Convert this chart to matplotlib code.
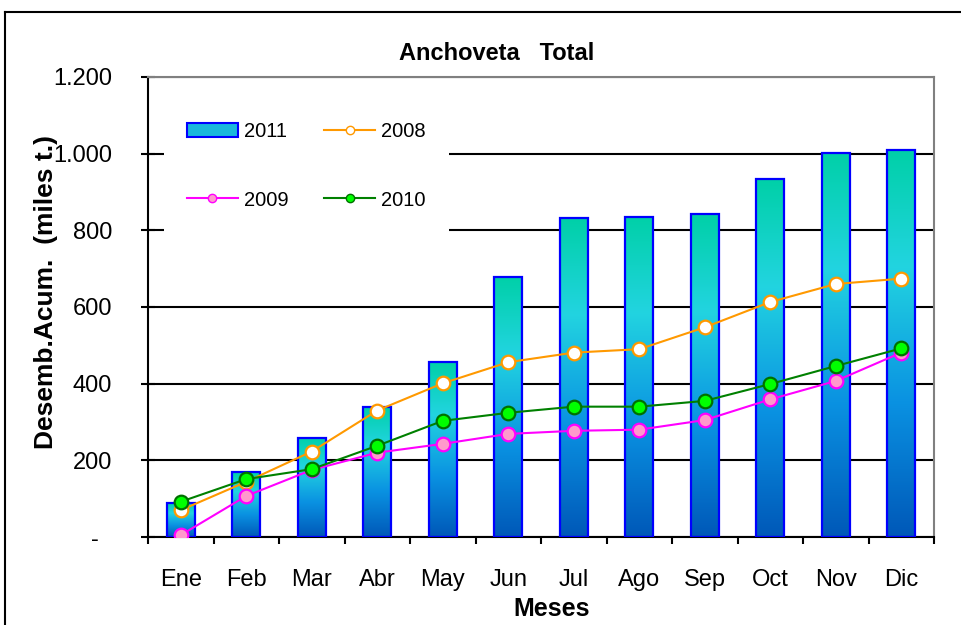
import numpy as np
import matplotlib.pyplot as plt
from matplotlib.colors import LinearSegmentedColormap
from matplotlib.patches import Rectangle, Patch
from matplotlib.lines import Line2D
from matplotlib.ticker import FuncFormatter

plt.rcParams['font.family'] = ['Liberation Sans', 'DejaVu Sans']

# datos (miles de t., acumulado)
meses = ['Ene', 'Feb', 'Mar', 'Abr', 'May', 'Jun', 'Jul', 'Ago', 'Sep', 'Oct', 'Nov', 'Dic']
d2011 = [88, 169, 259, 340, 456, 679, 832, 836, 842, 933, 1003, 1009]
d2008 = [70, 144, 223, 330, 401, 456, 481, 490, 547, 613, 660, 674]
d2009 = [5, 107, 175, 220, 243, 269, 277, 280, 305, 359, 407, 481]
d2010 = [92, 151, 177, 238, 303, 324, 340, 340, 355, 399, 446, 492]
yticks = [0, 200, 400, 600, 800, 1000, 1200]

fig = plt.figure(figsize=(9.61, 6.25), dpi=100)
W, H = 961, 625
ax = fig.add_axes([148 / W, 1 - 537 / H, (934 - 148) / W, (537 - 77) / H])

x = np.arange(len(meses))
ancho = 0.42

# degradado de las barras
cmap = LinearSegmentedColormap.from_list(
    'barra', [(0.0, '#0058B8'), (0.35, '#0A92E2'), (0.7, '#22D4E0'), (1.0, '#00D0A8')])
grad = np.linspace(0, 1, 256).reshape(-1, 1)
for xi, v in zip(x, d2011):
    ax.imshow(grad, cmap=cmap, extent=[xi - ancho / 2, xi + ancho / 2, 0, v],
              origin='lower', aspect='auto', zorder=2.4)
    ax.add_patch(Rectangle((xi - ancho / 2, 0), ancho, v, facecolor='none',
                           edgecolor='#0000FF', lw=1.6, zorder=2.6))

ax.plot(x, d2008, color='#FF9900', lw=1.5, marker='o', ms=9.8, mfc='white',
        mec='#FF9900', mew=1.6, zorder=4)
ax.plot(x, d2009, color='#FF00FF', lw=1.5, marker='o', ms=9.8, mfc='#FF99CC',
        mec='#FF00FF', mew=1.6, zorder=4)
ax.plot(x, d2010, color='#008000', lw=1.5, marker='o', ms=9.8, mfc='#00FF00',
        mec='#007000', mew=1.6, zorder=4)

ax.set_xlim(-0.5, 11.5)
ax.set_ylim(0, 1200)

ax.set_yticks(yticks)
ax.yaxis.set_major_formatter(FuncFormatter(
    lambda v, p: '-  ' if v == 0 else f'{int(v):,}'.replace(',', '.')))
ax.tick_params(axis='y', direction='inout', length=10, width=1.5, labelsize=17, pad=21)

ax.set_xticks(x)
ax.set_xticklabels(meses)
ax.set_xticks(np.arange(-0.5, 12, 1), minor=True)
ax.tick_params(axis='x', which='major', length=0, labelsize=17, pad=23)
ax.tick_params(axis='x', which='minor', direction='out', length=5, width=1.5)

ax.yaxis.grid(True, color='black', lw=1.5)
ax.set_axisbelow(True)
for s in ['left', 'bottom']:
    ax.spines[s].set_color('black')
    ax.spines[s].set_linewidth(1.5)
for s in ['top', 'right']:
    ax.spines[s].set_color('#808080')
    ax.spines[s].set_linewidth(1.5)

handles = [Patch(facecolor='#1AB8DC', edgecolor='#0000FF', lw=1.5),
           Line2D([], [], color='#FF00FF', lw=1.5, marker='o', ms=6, mfc='#FF99CC', mec='#FF00FF'),
           Line2D([], [], color='#FF9900', lw=1.5, marker='o', ms=6, mfc='white', mec='#FF9900'),
           Line2D([], [], color='#008000', lw=1.5, marker='o', ms=6, mfc='#00FF00', mec='#007000')]
leg = ax.legend(handles, ['2011', '2009', '2008', '2010'], ncol=2,
                loc='upper left', bbox_to_anchor=((164 - 148) / 786, (537 - 99) / 460),
                borderaxespad=0, fontsize=14.5, frameon=True, fancybox=False,
                borderpad=1.15, labelspacing=2.45, handlelength=2.5,
                handletextpad=0.3, columnspacing=1.8, handleheight=0.7)
leg.get_frame().set_facecolor('white')
leg.get_frame().set_edgecolor('none')
leg.get_frame().set_alpha(1)
leg.set_zorder(5)

fig.text(497 / W, 1 - 54 / H, 'Anchoveta   Total', ha='center', va='center',
         fontsize=17, fontweight='bold')
fig.text(552 / W, 1 - 609 / H, 'Meses', ha='center', va='center',
         fontsize=18, fontweight='bold')
fig.text(46 / W, 1 - 292 / H, 'Desemb.Acum.  (miles t.)', ha='center', va='center',
         rotation=90, fontsize=19, fontweight='bold')

# marco exterior
fig.add_artist(Line2D([5 / W, 5 / W], [0, 1 - 12 / H], color='black', lw=1.5))
fig.add_artist(Line2D([5 / W, 1], [1 - 12 / H, 1 - 12 / H], color='black', lw=1.5))

fig.savefig('out.png', dpi=100)
